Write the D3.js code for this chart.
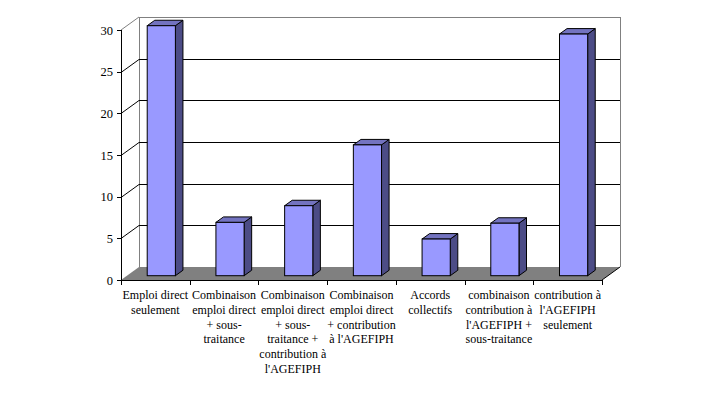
<!DOCTYPE html>
<html>
<head>
<meta charset="utf-8">
<script src="https://cdn.jsdelivr.net/npm/d3@7"></script>
</head>
<body style="margin:0">
<script>
// categories, one entry per line of the wrapped label
const categories = [
  ["Emploi direct", "seulement"],
  ["Combinaison", "emploi direct", "+ sous-", "traitance"],
  ["Combinaison", "emploi direct", "+ sous-", "traitance +", "contribution à", "l'AGEFIPH"],
  ["Combinaison", "emploi direct", "+ contribution", "à l'AGEFIPH"],
  ["Accords", "collectifs"],
  ["combinaison", "contribution à", "l'AGEFIPH +", "sous-traitance"],
  ["contribution à", "l'AGEFIPH", "seulement"]
];
const values = [30, 6.4, 8.4, 15.7, 4.4, 6.3, 29];
const yTicks = [0, 5, 10, 15, 20, 25, 30];

const width = 719, height = 396;
const cfg = { left: 121, right: 602, top: 30, bottom: 280, depthX: 18, depthY: 13 };
const barFront = 0.33, barBack = 0.75; // depth fractions of the bar in the floor

// small serif text gets swapped here, so draw it big and scale it down
function label(sel, size) {
  const k = size / 20;
  return sel.append("g")
    .attr("transform", d => `translate(${d.x},${d.y}) scale(${k})`)
    .append("text")
    .attr("text-anchor", d => d.anchor)
    .style("font-family", "'Liberation Serif'")
    .style("font-size", "20px")
    .text(d => d.text);
}

const svg = d3.select("body").append("svg")
  .attr("width", width)
  .attr("height", height);

const keys = categories.map((d, i) => i);
const xScale = d3.scaleBand().domain(keys).range([cfg.left, cfg.right])
  .paddingInner(0.59).paddingOuter(0.295);
const xStep = d3.scaleBand().domain(keys).range([cfg.left, cfg.right]);
const yScale = d3.scaleLinear().domain([0, 30]).range([cfg.bottom, cfg.top]);

const dx = cfg.depthX, dy = cfg.depthY;
const y0 = yScale(0), y30 = yScale(30);

// back wall
svg.append("path")
  .attr("d", `M${cfg.left + dx},${y0 - dy} L${cfg.left + dx},${y30 - dy} L${cfg.right + dx},${y30 - dy} L${cfg.right + dx},${y0 - dy}`)
  .attr("fill", "#fff")
  .attr("stroke", "#808080")
  .attr("shape-rendering", "crispEdges");
svg.append("line")
  .attr("x1", cfg.left).attr("y1", y30)
  .attr("x2", cfg.left + dx).attr("y2", y30 - dy)
  .attr("stroke", "#808080");

// gridlines
svg.append("g").selectAll("path")
  .data(yTicks.filter(t => t > 0 && t < 30))
  .join("path")
  .attr("d", t => {
    const y = Math.round(yScale(t)) + 0.5;
    return `M${cfg.left},${y} L${cfg.left + dx},${y - dy} L${cfg.right + dx},${y - dy}`;
  })
  .attr("fill", "none")
  .attr("stroke", "#000")
  .attr("stroke-width", 1);

// floor
svg.append("path")
  .attr("d", `M${cfg.left},${y0} L${cfg.left + dx},${y0 - dy} L${cfg.right + dx},${y0 - dy} L${cfg.right},${y0} Z`)
  .attr("fill", "#808080");
svg.append("line")
  .attr("x1", cfg.right).attr("y1", y0)
  .attr("x2", cfg.right + dx).attr("y2", y0 - dy)
  .attr("stroke", "#000");

// y axis
svg.append("line")
  .attr("x1", cfg.left + 0.5).attr("x2", cfg.left + 0.5)
  .attr("y1", y30).attr("y2", y0)
  .attr("stroke", "#000");
svg.selectAll("line.ytick").data(yTicks).join("line")
  .attr("class", "ytick")
  .attr("x1", cfg.left - 4).attr("x2", cfg.left)
  .attr("y1", t => Math.round(yScale(t)) + 0.5)
  .attr("y2", t => Math.round(yScale(t)) + 0.5)
  .attr("stroke", "#000");
label(svg.append("g").selectAll("g")
  .data(yTicks.map(t => ({ x: cfg.left - 8, y: yScale(t) + 4.5, anchor: "end", text: t })))
  .join("g"), 12.5);

// x axis
svg.append("line")
  .attr("x1", cfg.left).attr("x2", cfg.right)
  .attr("y1", y0 + 0.5).attr("y2", y0 + 0.5)
  .attr("stroke", "#000");
const bounds = keys.map(k => xStep(k)).concat([cfg.right]);
svg.selectAll("line.xtick").data(bounds).join("line")
  .attr("class", "xtick")
  .attr("x1", b => Math.round(b) + 0.5).attr("x2", b => Math.round(b) + 0.5)
  .attr("y1", y0).attr("y2", y0 + 5)
  .attr("stroke", "#000");

// bars
const fx = dx * barFront, fy = dy * barFront;
const bx = dx * (barBack - barFront), by = dy * (barBack - barFront);
const bw = xScale.bandwidth();
const bars = svg.append("g").selectAll("g").data(values).join("g");
bars.append("path") // side
  .attr("d", (v, i) => {
    const x = xScale(i) + fx + bw, yt = yScale(v) - fy, yb = y0 - fy;
    return `M${x},${yt} L${x + bx},${yt - by} L${x + bx},${yb - by} L${x},${yb} Z`;
  })
  .attr("fill", "#4c4c86")
  .attr("stroke", "#000");
bars.append("path") // top
  .attr("d", (v, i) => {
    const x = xScale(i) + fx, yt = yScale(v) - fy;
    return `M${x},${yt} L${x + bx},${yt - by} L${x + bw + bx},${yt - by} L${x + bw},${yt} Z`;
  })
  .attr("fill", "#7373c0")
  .attr("stroke", "#000");
bars.append("rect") // front
  .attr("x", (v, i) => xScale(i) + fx)
  .attr("y", v => yScale(v) - fy)
  .attr("width", bw)
  .attr("height", v => y0 - yScale(v))
  .attr("fill", "#9999ff")
  .attr("stroke", "#000");

// category labels, one text per line
const catLines = [];
categories.forEach((lines, i) => {
  lines.forEach((t, j) => catLines.push({
    x: xStep(i) + xStep.bandwidth() / 2, y: 299 + j * 14.8, anchor: "middle", text: t
  }));
});
label(svg.append("g").selectAll("g").data(catLines).join("g"), 12);
</script>
</body>
</html>
